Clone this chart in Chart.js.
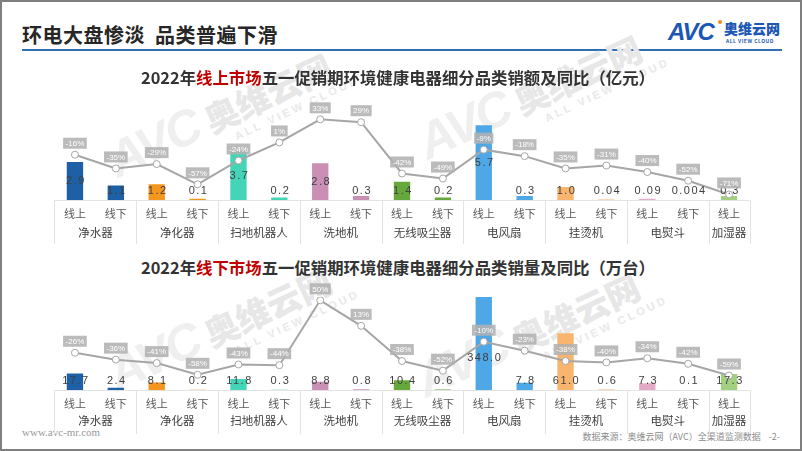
<!DOCTYPE html>
<html><head><meta charset="utf-8">
<script src="https://cdn.jsdelivr.net/npm/chart.js@4"></script>
<style>
html,body{margin:0;padding:0;background:#fff;}
body{width:802px;height:451px;position:relative;overflow:hidden;font-family:"Noto Sans CJK SC","Noto Sans",sans-serif;}
.frame{position:absolute;left:0;top:0;width:802px;height:451px;border:2px solid #7f7f7f;box-sizing:border-box;z-index:20;pointer-events:none;}
.main{position:absolute;left:22px;top:20px;font-size:20px;font-weight:700;color:#262626;line-height:30px;letter-spacing:0.5px;}
.rule{position:absolute;left:22px;top:49px;width:760px;height:2px;background:#2f6db5;}
.ct{position:absolute;left:0;width:796px;text-align:center;font-size:16.4px;font-weight:700;color:#333;line-height:22px;z-index:5;}
.ct b{color:#c00000;font-weight:700;}
.box{position:absolute;left:0;width:802px;z-index:4;}
.wm{position:absolute;z-index:1;transform-origin:left top;transform:rotate(-25deg);white-space:nowrap;width:260px;height:60px;}
.wm .a{position:absolute;left:0;top:0;font-family:'Liberation Sans';font-style:italic;font-weight:900;font-size:50px;line-height:50px;color:#efefef;letter-spacing:-2px;}
.wm .z{position:absolute;left:104px;top:8px;font-weight:900;font-size:34px;line-height:40px;color:#e7e7e7;}
.wm .e{position:absolute;left:124px;top:48px;font-family:'Liberation Sans';font-weight:700;font-size:11px;color:#e9e9e9;letter-spacing:3px;}
.foot1{position:absolute;left:22px;top:426px;font-family:"Liberation Serif",serif;font-size:11px;color:#9a9a9a;}
.foot2{position:absolute;right:22px;top:430px;font-size:9px;color:#8c8c8c;}
.logo{position:absolute;left:668px;top:18px;}
</style></head><body>
<div class="frame"></div>
<div class="main">环电大盘惨淡&nbsp;&nbsp;品类普遍下滑</div>
<div class="rule"></div>
<div class="logo">
  <span style="position:absolute;left:0;top:0;font-family:'Liberation Sans';font-style:italic;font-weight:900;font-size:24px;color:#1c57b3;letter-spacing:-1px;line-height:28px;">AVC</span>
  <span style="position:absolute;left:50px;top:2px;width:4px;height:4px;border-radius:2px;background:#f08c1a;"></span>
  <span style="position:absolute;left:56px;top:1px;font-size:14px;font-weight:900;color:#1c57b3;line-height:18px;white-space:nowrap;">奥维云网</span>
  <span style="position:absolute;left:58px;top:19px;font-size:5px;font-weight:700;color:#1c57b3;white-space:nowrap;letter-spacing:0.5px;">ALL VIEW CLOUD</span>
</div>
<div class="wm" style="left:100px;top:140px;"><span class="a">AVC</span><span class="z">奥维云网</span><span class="e">ALL VIEW CLOUD</span></div>
<div class="wm" style="left:410px;top:122px;"><span class="a">AVC</span><span class="z">奥维云网</span><span class="e">ALL VIEW CLOUD</span></div>
<div class="wm" style="left:100px;top:354px;"><span class="a">AVC</span><span class="z">奥维云网</span><span class="e">ALL VIEW CLOUD</span></div>
<div class="wm" style="left:408px;top:360px;"><span class="a">AVC</span><span class="z">奥维云网</span><span class="e">ALL VIEW CLOUD</span></div>
<div class="ct" style="top:66px;">2022年<b>线上市场</b>五一促销期环境健康电器细分品类销额及同比（亿元）</div>
<div class="ct" style="top:256px;">2022年<b>线下市场</b>五一促销期环境健康电器细分品类销量及同比（万台）</div>
<div class="box" style="top:88px;height:157px;"><canvas id="c1"></canvas></div>
<div class="box" style="top:280px;height:155px;"><canvas id="c2"></canvas></div>
<div class="foot1">www.avc-mr.com</div>
<div class="foot2">数据来源：奥维云网（AVC）全渠道监测数据&nbsp;&nbsp;&nbsp;&nbsp;-2-</div>
<script>
// ---- data ----
const categories = ['净水器','净化器','扫地机器人','洗地机','无线吸尘器','电风扇','挂烫机','电熨斗','加湿器'];
const channels = ['线上','线下','线上','线下','线上','线下','线上','线下','线上','线下','线上','线下','线上','线下','线上','线下','线上'];
const groupIndex = [0,0,1,1,2,2,3,3,4,4,5,5,6,6,7,7,8];
const onlineSales = [2.9,1.1,1.2,0.1,3.7,0.2,2.8,0.3,1.4,0.2,5.7,0.3,1.0,0.04,0.09,0.004,0.3];
const onlineYoY = [-16,-35,-29,-57,-24,1,33,29,-42,-49,-9,-18,-35,-31,-40,-52,-71];
const offlineVolume = [17.7,2.4,8.1,0.2,11.8,0.3,8.8,0.8,10.4,0.6,348.0,7.8,61.0,0.6,7.3,0.1,17.3];
const offlineYoY = [-26,-36,-41,-58,-43,-44,50,13,-38,-52,-10,-23,-38,-40,-34,-42,-59];
const groupColors = ['#1d60a6','#f5961e','#44d5b7','#c98fb4','#67a83c','#4ea7e7','#f9b46e','#e3aac6','#a1d17f'];

function fmt(v){ return v < 0.1 && v > 0 ? String(v) : v.toFixed(1); }

const labelPlugin = {
  id:'labels',
  afterDatasetsDraw(chart, args, opts){
    const ctx = chart.ctx;
    const area = chart.chartArea;
    const xs = chart.scales.x;
    ctx.save();
    ctx.strokeStyle = '#e3e3e3';
    ctx.lineWidth = 1;
    ctx.beginPath();
    ctx.moveTo(area.left, Math.round(area.bottom)+0.5);
    ctx.lineTo(area.right, Math.round(area.bottom)+0.5);
    ctx.stroke();
    const half = (xs.getPixelForValue(1) - xs.getPixelForValue(0))/2;
    let start = 0;
    for (let i=0;i<=groupIndex.length;i++){
      if (i===groupIndex.length || (i>0 && groupIndex[i]!==groupIndex[i-1])){
        const x0 = xs.getPixelForValue(start)-half;
        const x1 = xs.getPixelForValue(i-1)+half;
        if (start===0){
          ctx.beginPath();ctx.moveTo(Math.round(x0)+0.5, area.bottom);ctx.lineTo(Math.round(x0)+0.5, area.bottom+44);ctx.stroke();
        }
        ctx.beginPath();ctx.moveTo(Math.round(x1)+0.5, area.bottom);ctx.lineTo(Math.round(x1)+0.5, area.bottom+44);ctx.stroke();
        ctx.fillStyle = '#404040';
        ctx.font = '11.5px "Noto Sans CJK SC"';
        ctx.textAlign = 'center';
        ctx.textBaseline = 'middle';
        ctx.fillText(categories[groupIndex[start]], (x0+x1)/2, area.bottom + opts.groupY);
        start = i;
      }
    }
    const barMeta = chart.getDatasetMeta(1);
    const vals = chart.data.datasets[1].data;
    const ymax = chart.scales.y.max;
    ctx.font = '11px "Liberation Sans"';
    ctx.letterSpacing = '1.5px';
    ctx.fillStyle = '#404040';
    ctx.textAlign = 'center';
    ctx.textBaseline = 'middle';
    barMeta.data.forEach((el,i)=>{
      const v = vals[i];
      let y;
      if (opts.mode === 'center'){
        y = Math.min((el.y + el.base)/2, area.bottom - 9);
      } else {
        y = v > ymax ? area.bottom - 32 : area.bottom - 9;
      }
      ctx.fillText(fmt(v), el.x + 1, y);
    });
    ctx.letterSpacing = '0px';
    const lineMeta = chart.getDatasetMeta(0);
    const yoy = chart.data.datasets[0].data;
    ctx.font = '8px "Liberation Sans"';
    lineMeta.data.forEach((el,i)=>{
      const t = yoy[i] + '%';
      const w = ctx.measureText(t).width + 5;
      const cy = el.y - 11.5;
      ctx.fillStyle = 'rgba(178,178,178,0.88)';
      ctx.fillRect(el.x - w/2, cy - 5.5, w, 11);
      ctx.fillStyle = '#ffffff';
      ctx.fillText(t, el.x, cy + 0.5);
    });
    ctx.restore();
  }
};

function makeChart(id, bars, yoy, barMax, lineMin, lineMax, padTop, mode, groupY){
  new Chart(document.getElementById(id), {
    data:{
      labels: channels,
      datasets:[
        {type:'line', data: yoy, yAxisID:'y2', order:0, borderColor:'#a6a6a6', borderWidth:2,
         pointRadius:3.5, pointBackgroundColor:'#ffffff', pointBorderColor:'#a6a6a6', pointBorderWidth:1, tension:0},
        {type:'bar', data: bars, yAxisID:'y', order:1,
         backgroundColor: groupIndex.map(g=>groupColors[g]), barPercentage:0.4, categoryPercentage:1}
      ]
    },
    options:{
      responsive:true, maintainAspectRatio:false, animation:false,
      devicePixelRatio:1,
      layout:{padding:{left:54.5, right:52.5, top:padTop, bottom:0}},
      plugins:{legend:{display:false}, tooltip:{enabled:false}, labels:{mode, groupY}},
      scales:{
        x:{type:'category', offset:true, grid:{display:false, drawTicks:false}, border:{display:false},
           ticks:{color:'#595959', font:{family:'"Noto Sans CJK SC"', size:11}, padding:7, autoSkip:false, maxRotation:0},
           afterFit(s){ s.height = 45; }},
        y:{display:false, min:0, max:barMax},
        y2:{display:false, min:lineMin, max:lineMax}
      }
    },
    plugins:[labelPlugin]
  });
}
makeChart('c1', onlineSales, onlineYoY, 8, -78.7, 66.4, 7.2, 'center', 33);
makeChart('c2', offlineVolume, offlineYoY, 100, -80, 54.8, 17, 'base', 31);
</script>
</body></html>
